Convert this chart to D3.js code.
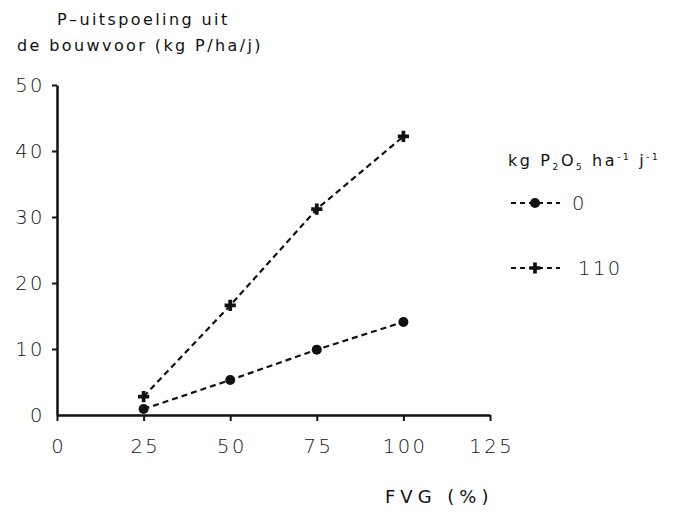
<!DOCTYPE html>
<html><head><meta charset="utf-8">
<script src="https://cdn.jsdelivr.net/npm/d3@7"></script>
<style>body{margin:0;background:#fff}svg{display:block}text{font-family:"DejaVu Sans",sans-serif;fill:#111}</style>
</head><body><svg id="c" width="681" height="514"></svg>
<script>
const xValues = [25, 50, 75, 100];
const series0 = [0.9, 5.3, 9.9, 14.1];
const series110 = [2.8, 16.6, 31.2, 42.2];
const xTicks = [0, 25, 50, 75, 100, 125];
const yTicks = [0, 10, 20, 30, 40, 50];
const seriesNames = ["0", "110"];

const svg = d3.select("#c");
const x = d3.scaleLinear().domain([0, 125]).range([57, 490]);
const y = d3.scaleLinear().domain([0, 50]).range([415, 85]);

const tickFont = sel => sel.style("font-size", "19.5px").style("letter-spacing", "2.5px")
  .style("font-family", "DejaVu Sans, sans-serif").style("font-weight", "300").attr("fill", "#111");

// axes
const xAxis = d3.axisBottom(x).tickValues(xTicks).tickSize(6).tickPadding(18).tickSizeOuter(0);
const gx = svg.append("g").attr("transform", "translate(0,415)").call(xAxis);
gx.select(".domain").attr("stroke", "#111").attr("stroke-width", 2.5);
gx.selectAll(".tick line").attr("stroke", "#111").attr("stroke-width", 2);
gx.selectAll(".tick text").call(tickFont).attr("dx", "1.2px");

const yAxis = d3.axisLeft(y).tickValues(yTicks).tickSize(5).tickPadding(9).tickSizeOuter(0);
const gy = svg.append("g").attr("transform", "translate(57,0)").call(yAxis);
gy.select(".domain").attr("stroke", "#111").attr("stroke-width", 2.5);
gy.selectAll(".tick line").attr("stroke", "#111").attr("stroke-width", 2);
gy.selectAll(".tick text").call(tickFont).attr("dx", "2px");
gy.selectAll(".tick").filter(d => d === 0).select("line").remove();

// lines
const line = d3.line().x((d, i) => x(xValues[i])).y(d => y(d));
[series0, series110].forEach(s => {
  svg.append("path").datum(s).attr("d", line).attr("fill", "none")
    .attr("stroke", "#111").attr("stroke-width", 2.2).attr("stroke-dasharray", "6,4");
});

// markers
svg.selectAll(".dot").data(series0).enter().append("circle")
  .attr("cx", (d, i) => x(xValues[i])).attr("cy", d => y(d)).attr("r", 5).attr("fill", "#111");
svg.selectAll(".cr").data(series110).enter().append("path")
  .attr("d", d3.symbol().type(d3.symbolCross).size(70))
  .attr("transform", (d, i) => `translate(${x(xValues[i])},${y(d)})`).attr("fill", "#111");

// titles
const titleStyle = sel => sel.style("font-size", "16px").style("letter-spacing", "2.4px");
svg.append("text").attr("x", 57).attr("y", 25).call(titleStyle).text("P\u2013uitspoeling uit");
svg.append("text").attr("x", 17).attr("y", 51).call(titleStyle).text("de bouwvoor (kg P/ha/j)");
svg.append("text").attr("x", 385).attr("y", 503).style("font-size", "18px").style("letter-spacing", "5px").text("FVG (%)");

// legend
const lt = svg.append("text").attr("x", 508).attr("y", 166).style("font-size", "16px").style("letter-spacing", "2.6px");
lt.append("tspan").text("kg P");
lt.append("tspan").attr("dy", 4).style("font-size", "9px").text("2");
lt.append("tspan").attr("dy", -4).text("O");
lt.append("tspan").attr("dy", 4).style("font-size", "9px").text("5");
lt.append("tspan").attr("dy", -4).text(" ha");
lt.append("tspan").attr("dy", -6).style("font-size", "9px").text("-1");
lt.append("tspan").attr("dy", 6).text(" j");
lt.append("tspan").attr("dy", -6).style("font-size", "9px").text("-1");

const legY = [203, 268];
seriesNames.forEach((n, i) => {
  const g = svg.append("g");
  g.append("line").attr("x1", 511).attr("x2", 560).attr("y1", legY[i]).attr("y2", legY[i])
    .attr("stroke", "#111").attr("stroke-width", 2.2).attr("stroke-dasharray", "5,4");
  if (i === 0) g.append("circle").attr("cx", 535).attr("cy", legY[i]).attr("r", 5).attr("fill", "#111");
  else g.append("path").attr("d", d3.symbol().type(d3.symbolCross).size(70)).attr("transform", `translate(535,${legY[i]})`).attr("fill", "#111");
  g.append("text").attr("x", i === 0 ? 572 : 578).attr("y", legY[i] + 7).style("font-size", "19.5px").style("letter-spacing", "2.5px").style("font-weight", "300").text(n);
});
</script></body></html>
